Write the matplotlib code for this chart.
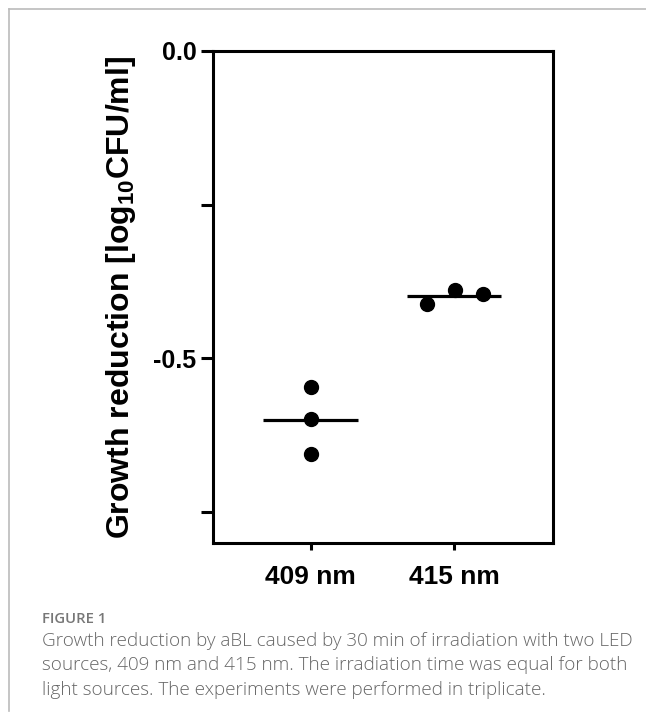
"""Growth reduction by aBL, 409 nm vs 415 nm (scatter with mean line)."""
import numpy as np, matplotlib
matplotlib.use('Agg')
import matplotlib.pyplot as plt
from matplotlib.lines import Line2D

plt.rcParams['font.family'] = ['Liberation Sans', 'DejaVu Sans']
plt.rcParams['mathtext.fontset'] = 'custom'
plt.rcParams['mathtext.bf'] = 'Liberation Sans:bold'
plt.rcParams['mathtext.rm'] = 'Liberation Sans:bold'
plt.rcParams['mathtext.default'] = 'bf'

# Data: log10 CFU/ml growth reduction, triplicates
categories = ['409 nm', '415 nm']
vals_409 = [-0.547, -0.598, -0.656]
vals_415 = [-0.411, -0.389, -0.395]
yticks = [0.0, -0.5]
yticklabels = ['0.0', '-0.5']
yminor = [-0.25, -0.75]

caption_head = 'FIGURE 1'
caption_lines = [
    'Growth reduction by aBL caused by 30 min of irradiation with two LED',
    'sources, 409 nm and 415 nm. The irradiation time was equal for both',
    'light sources. The experiments were performed in triplicate.',
]

# horizontal scatter offsets of the dots (as drawn in the original)
jitter = [[0.0, 0.0, 0.0], [-0.19, 0.01, 0.20]]

fig = plt.figure(figsize=(6.46, 7.15), dpi=100)
ax = fig.add_axes([0.3297, 0.2406, 0.5263, 0.6881])

for i, vals in enumerate([vals_409, vals_415]):
    xs = [i + j for j in jitter[i]]
    ax.plot(xs, vals, 'o', color='black', markersize=10, zorder=3)
    m = np.mean(vals)
    ax.plot([i - 0.33, i + 0.33], [m, m], color='black', linewidth=2.3,
            solid_capstyle='butt', zorder=2)

ax.set_xlim(-0.68, 1.69)
ax.set_ylim(-0.8, 0.0)
ax.set_xticks(range(len(categories)))
ax.set_xticklabels(categories, fontsize=19, fontweight='bold')
ax.set_yticks(yticks)
ax.set_yticklabels(yticklabels, fontsize=18, fontweight='bold')
ax.set_yticks(yminor, minor=True)
ax.tick_params(axis='y', which='both', length=9, width=2.2, pad=3)
ax.tick_params(axis='x', length=5, width=2.2, pad=11)
for s in ax.spines.values():
    s.set_linewidth(2.2)

ax.set_ylabel('Growth reduction [log$_{10}$CFU/ml]', fontsize=23,
              fontweight='bold')
ax.yaxis.set_label_coords(-0.22, 0.5)

# light gray page frame (top and left)
fig.add_artist(Line2D([9 / 646, 1.0], [1 - 9 / 715] * 2, color='#bbbbbb',
                      linewidth=1.2, transform=fig.transFigure))
fig.add_artist(Line2D([9 / 646] * 2, [1 - 9 / 715, 0.005], color='#bbbbbb',
                      linewidth=1.2, transform=fig.transFigure))

# caption
fig.text(42 / 646, 1 - 619 / 715, caption_head, fontsize=10.7, color='#777777',
         family='Open Sans', fontweight='semibold', va='center', ha='left')
for k, line in enumerate(caption_lines):
    fig.text(42 / 646, 1 - (641 + 24.5 * k) / 715, line, fontsize=13.6,
             color='#666666', family='Open Sans', fontweight='light',
             va='center', ha='left')

fig.savefig('out.png', dpi=100)
print('Saved out.png')
